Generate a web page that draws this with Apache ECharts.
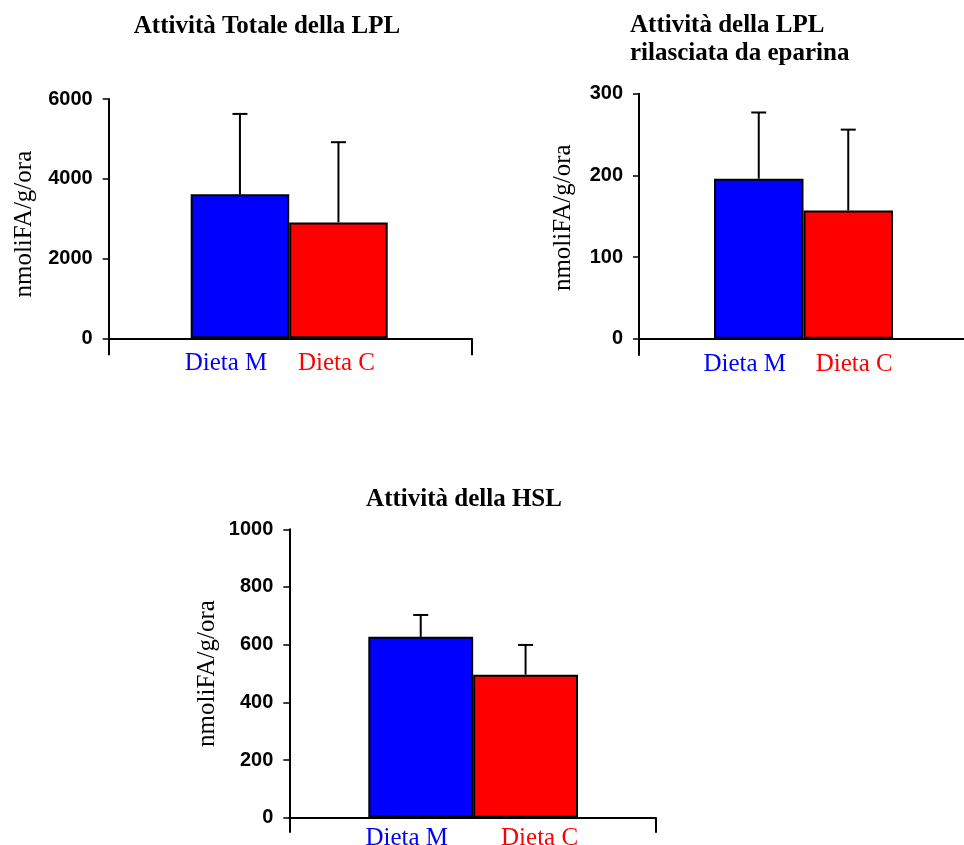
<!DOCTYPE html>
<html>
<head>
<meta charset="utf-8">
<script src="https://cdn.jsdelivr.net/npm/echarts@6/dist/echarts.min.js"></script>
<style>
html,body{margin:0;padding:0;background:#fff;}
#c{width:964px;height:845px;}
</style>
</head>
<body>
<div id="c"></div>
<script>
// ---- data ----
var categories = ['Dieta M', 'Dieta C'];
var barColors = ['#0000ff', '#ff0000'];
var yAxisName = 'nmoliFA/g/ora';

var title1 = 'Attività Totale della LPL';
var mean1 = [3610, 2906];
var sd1 = [2016, 2011];
var ticks1 = {min: 0, max: 6000, interval: 2000};

var title2 = 'Attività della LPL\nrilasciata da eparina';
var mean2 = [196, 157];
var sd2 = [81, 99];
var ticks2 = {min: 0, max: 300, interval: 100};

var title3 = 'Attività della HSL';
var mean3 = [627, 496];
var sd3 = [76, 103];
var ticks3 = {min: 0, max: 1000, interval: 200};

// ---- layout ----
var panels = [
  {title: title1, mean: mean1, sd: sd1, ticks: ticks1,
   axisX: 108.7, barL: 190.7, barW: 197, top: 99, h: 239.3, fullW: 363, tickLen: 17,
   nameGap: 72, namePad: [0, 11, 0, 0], labelMargin: 13, shift: [-14, -2],
   titleOpt: {left: 267, top: 13, textAlign: 'center'}},
  {title: title2, mean: mean2, sd: sd2, ticks: ticks2,
   axisX: 639, barL: 714, barW: 179, top: 93.7, h: 245, fullW: 340, tickLen: 17,
   nameGap: 63, namePad: [0, 3, 0, 0], labelMargin: 13, shift: [-14, 6],
   titleOpt: {left: 630, top: 12, textAlign: 'left'}},
  {title: title3, mean: mean3, sd: sd3, ticks: ticks3,
   axisX: 289.3, barL: 368.3, barW: 209.7, top: 529.3, h: 288.4, fullW: 366.7, tickLen: 15,
   nameGap: 69, namePad: [0, 0, 0, 0], labelMargin: 8, shift: [-14, 14],
   titleOpt: {left: 464, top: 486, textAlign: 'center'}}
];

function errRender(params, api) {
  var x = api.value(0), y = api.value(1), e = api.value(2);
  var p0 = api.coord([x, y]);
  var p1 = api.coord([x, y + e]);
  var hw = 7.5;
  return {
    type: 'group',
    children: [
      {type: 'line', shape: {x1: p0[0], y1: p0[1], x2: p1[0], y2: p1[1]}, style: {stroke: '#000', lineWidth: 2}},
      {type: 'line', shape: {x1: p1[0] - hw, y1: p1[1], x2: p1[0] + hw, y2: p1[1]}, style: {stroke: '#000', lineWidth: 2}}
    ]
  };
}

var option = {
  backgroundColor: '#fff',
  animation: false,
  title: [], grid: [], xAxis: [], yAxis: [], series: []
};

panels.forEach(function (p, i) {
  var gA = i * 2, gB = i * 2 + 1;
  var t = Object.assign({
    text: p.title, padding: 0,
    textStyle: {fontFamily: 'Liberation Serif', fontWeight: 'bold', fontSize: 25, color: '#000', lineHeight: 28}
  }, p.titleOpt);
  option.title.push(t);

  option.grid.push({left: p.barL, top: p.top, width: p.barW, height: p.h, containLabel: false, outerBoundsMode: 'none'});
  option.grid.push({left: p.axisX, top: p.top, width: p.fullW, height: p.h, containLabel: false, outerBoundsMode: 'none'});

  var rich = {
    m: {fontFamily: 'Liberation Serif', fontSize: 25, color: barColors[0],
        padding: p.shift[0] < 0 ? [0, -2 * p.shift[0], 0, 0] : [0, 0, 0, 2 * p.shift[0]]},
    c: {fontFamily: 'Liberation Serif', fontSize: 25, color: barColors[1],
        padding: p.shift[1] < 0 ? [0, -2 * p.shift[1], 0, 0] : [0, 0, 0, 2 * p.shift[1]]}
  };

  option.xAxis.push({
    type: 'category', gridIndex: gA, data: categories,
    axisLine: {show: false}, axisTick: {show: false},
    axisLabel: {
      margin: p.labelMargin, interval: 0,
      formatter: function (v, idx) { return '{' + (idx === 0 ? 'm' : 'c') + '|' + v + '}'; },
      rich: rich
    }
  });
  option.xAxis.push({
    type: 'category', gridIndex: gB, data: [''],
    axisLine: {show: true, lineStyle: {color: '#000', width: 2}},
    axisTick: {show: true, length: p.tickLen, lineStyle: {color: '#000', width: 2}},
    axisLabel: {show: false}
  });

  option.yAxis.push({
    type: 'value', gridIndex: gA,
    min: p.ticks.min, max: p.ticks.max, interval: p.ticks.interval,
    offset: p.barL - p.axisX,
    name: yAxisName, nameLocation: 'middle', nameGap: p.nameGap,
    nameTextStyle: {fontFamily: 'Liberation Serif', fontSize: 25, color: '#000', padding: p.namePad},
    axisLine: {show: true, lineStyle: {color: '#000', width: 2}},
    axisTick: {show: true, length: 6, lineStyle: {color: '#000', width: 1.5}},
    axisLabel: {margin: 16, fontFamily: 'Liberation Sans', fontWeight: 'bold', fontSize: 20, color: '#000',
                formatter: function (v) { return String(v); }},
    splitLine: {show: false}
  });
  option.yAxis.push({
    type: 'value', gridIndex: gB, min: 0, max: 1, show: false
  });

  option.series.push({
    type: 'bar', xAxisIndex: gA, yAxisIndex: gA,
    barWidth: '100%', barGap: '0%',
    data: p.mean.map(function (v, k) {
      return {value: v, itemStyle: {color: barColors[k], borderColor: '#000', borderWidth: 2}};
    }),
    z: 2
  });
  option.series.push({
    type: 'custom', xAxisIndex: gA, yAxisIndex: gA,
    renderItem: errRender,
    data: p.mean.map(function (v, k) { return [k, v, p.sd[k]]; }),
    z: 3
  });
});

var chart = echarts.init(document.getElementById('c'), null, {renderer: 'canvas'});
chart.setOption(option);
</script>
</body>
</html>
